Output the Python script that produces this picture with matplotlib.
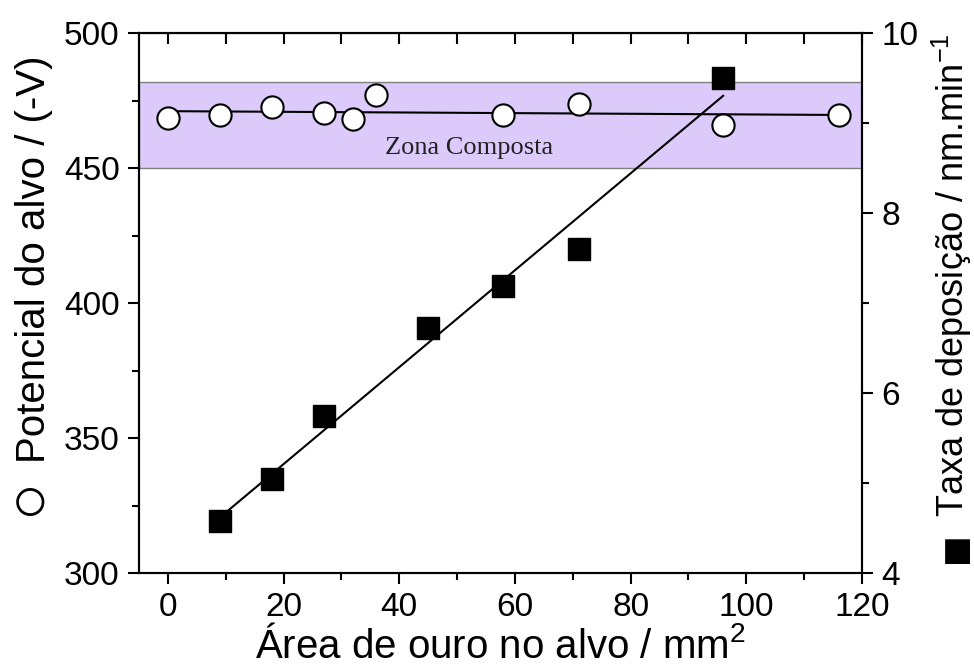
import numpy as np
import matplotlib
matplotlib.use('Agg')
from matplotlib import pyplot as plt
from matplotlib.ticker import MultipleLocator

plt.rcParams['font.family'] = ['Liberation Sans', 'DejaVu Sans']
plt.rcParams['mathtext.fontset'] = 'custom'
plt.rcParams['mathtext.rm'] = 'Liberation Sans'

# potencial do alvo (circulos, eixo esquerdo)
area_pot = [0, 9, 18, 27, 32, 36, 58, 71, 96, 116]
potencial = [468.5, 469.5, 472.6, 470.2, 468.0, 477.0, 469.6, 473.7, 466.0, 469.8]

# taxa de deposicao (quadrados, eixo direito)
area_taxa = [9, 18, 27, 45, 58, 71, 96]
taxa = [4.58, 5.05, 5.74, 6.72, 7.19, 7.60, 9.50]

zona = (450, 482)

fig = plt.figure(figsize=(9.74, 6.68), dpi=100)
ax = fig.add_axes([0.1427, 0.1422, 0.885 - 0.1427, 0.9506 - 0.1422])
ax2 = ax.twinx()

ax.axhspan(zona[0], zona[1], facecolor='#dccbfa', edgecolor='#808080', lw=1.0, zorder=0)
ax.text(52, 457.4, 'Zona Composta', family='Liberation Serif', fontsize=19,
        ha='center', va='center', color='#222222')

# ajuste linear
p1 = np.polyfit(area_pot, potencial, 1)
xx1 = np.array([min(area_pot), max(area_pot)])
ax.plot(xx1, np.polyval(p1, xx1), color='black', lw=1.5, zorder=2)
ax.plot(area_pot, potencial, 'o', ms=16, mfc='white', mec='black', mew=1.5, zorder=3)

p2 = np.polyfit(area_taxa, taxa, 1)
xx2 = np.array([min(area_taxa), max(area_taxa)])
ax2.plot(xx2, np.polyval(p2, xx2), color='black', lw=1.5, zorder=2)
ax2.plot(area_taxa, taxa, 's', ms=16.5, color='black', zorder=3)

ax.set_xlim(-5, 120)
ax.set_ylim(300, 500)
ax2.set_ylim(4, 10)

ax.xaxis.set_major_locator(MultipleLocator(20))
ax.xaxis.set_minor_locator(MultipleLocator(10))
ax.yaxis.set_major_locator(MultipleLocator(50))
ax.yaxis.set_minor_locator(MultipleLocator(25))
ax2.yaxis.set_major_locator(MultipleLocator(2))
ax2.yaxis.set_minor_locator(MultipleLocator(1))

for a in (ax, ax2):
    for s in a.spines.values():
        s.set_linewidth(1.5)
    a.tick_params(which='major', length=8, width=1.5, labelsize=24, direction='out', pad=6)
    a.tick_params(which='minor', length=5, width=1.5, direction='out')

top = ax.secondary_xaxis('top')
top.xaxis.set_major_locator(MultipleLocator(10))
top.tick_params(direction='in', length=8, width=1.5, labeltop=False)

ax.set_xlabel('Área de ouro no alvo / mm$^2$', fontsize=29, va='baseline')
ax.xaxis.set_label_coords(0.4993, -0.157)
ax.set_ylabel('Potencial do alvo / (-V)', fontsize=29, va='center')
ax.yaxis.set_label_coords(-0.1452, 0.581)
ax2.set_ylabel('Taxa de deposição / nm.min$^{-1}$', fontsize=26, va='center')
ax2.yaxis.set_label_coords(1.1245, 0.552)

# simbolos das series junto aos titulos dos eixos
fig.text(30 / 974, 1 - 504 / 668, '○', fontsize=46, ha='center', va='center')
fig.text(957 / 974, 1 - 554 / 668, '■', fontsize=37, ha='center', va='center')

fig.savefig('out.png', dpi=100)
